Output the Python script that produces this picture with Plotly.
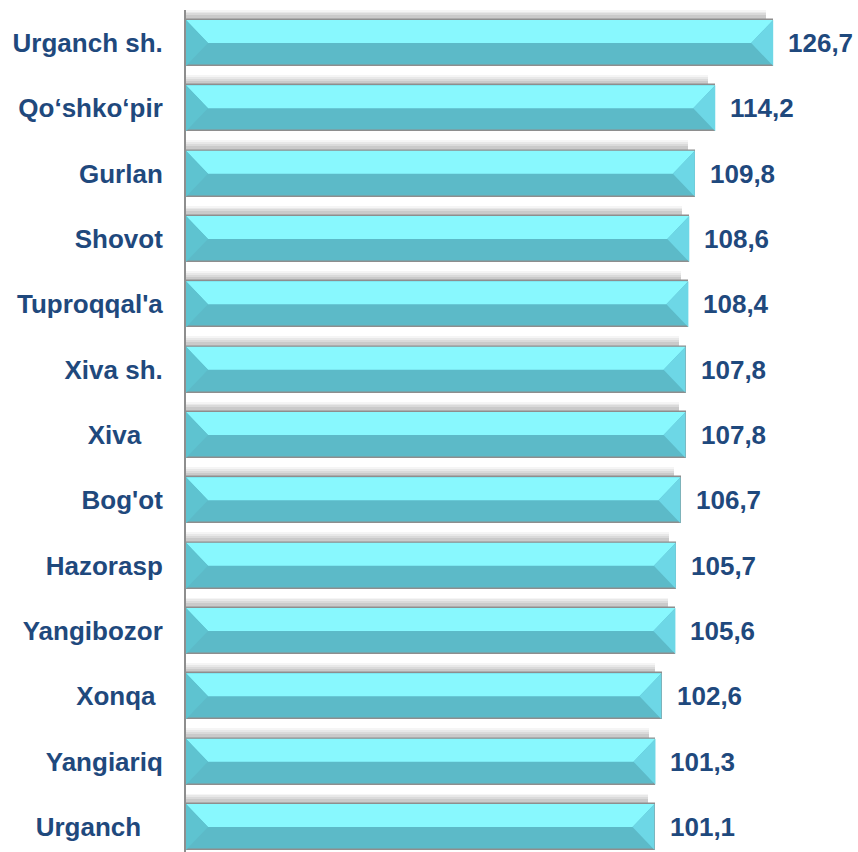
import plotly.graph_objects as go

# top-to-bottom as in the picture
regions = ["Urganch sh.", "Qo\u2018shko\u2018pir", "Gurlan", "Shovot", "Tuproqqal'a",
           "Xiva sh.", "Xiva\u00a0\u00a0\u00a0", "Bog'ot", "Hazorasp", "Yangibozor",
           "Xonqa\u00a0", "Yangiariq", "Urganch\u00a0\u00a0\u00a0"]
values = [126.7, 114.2, 109.8, 108.6, 108.4, 107.8, 107.8, 106.7, 105.7, 105.6,
          102.6, 101.3, 101.1]

BLUE = "#1F497D"
FONT = "Arial, 'Liberation Sans', sans-serif"
TOP_FACE = "#88F8FE"
BOTTOM_FACE = "#5CBAC8"
LEFT_FACE = "#5EC3D0"
RIGHT_FACE = "#6DD7E6"
EDGE = "#8E8E8E"

n = len(regions)
ypos = list(range(n - 1, -1, -1))   # first region at the top
half = 0.352                          # half bar thickness (category units)
bevel = 4.75                          # bevel depth in value units

fig = go.Figure()

# soft shadow above each bar, built from a few faint layers
for shift, alpha in [(0.16, 0.04), (0.13, 0.05), (0.10, 0.06), (0.07, 0.07)]:
    fig.add_trace(go.Bar(y=[y + shift for y in ypos], x=[v - 1.5 for v in values],
                         orientation="h", width=2 * half,
                         marker=dict(color=f"rgba(0,0,0,{alpha})", line=dict(width=0)),
                         hoverinfo="skip", showlegend=False))

# bar body (lower face colour)
fig.add_trace(go.Bar(y=ypos, x=values, orientation="h", width=2 * half,
                     marker=dict(color=BOTTOM_FACE, line=dict(width=0)),
                     showlegend=False))


def faces(kind):
    xs, ys = [], []
    for y, v in zip(ypos, values):
        if kind == "top":
            px = [0, v, v - bevel, bevel, 0]
            py = [y + half, y + half, y, y, y + half]
        elif kind == "left":
            px = [0, bevel, 0, 0]
            py = [y + half, y, y - half, y + half]
        else:
            px = [v, v - bevel, v, v]
            py = [y + half, y, y - half, y + half]
        xs += px + [None]
        ys += py + [None]
    return xs, ys


for kind, col in [("top", TOP_FACE), ("left", LEFT_FACE), ("right", RIGHT_FACE)]:
    fx, fy = faces(kind)
    fig.add_trace(go.Scatter(x=fx, y=fy, mode="lines", fill="toself",
                             fillcolor=col, line=dict(width=0),
                             hoverinfo="skip", showlegend=False))

# outline on top
fig.add_trace(go.Bar(y=ypos, x=values, orientation="h", width=2 * half,
                     marker=dict(color="rgba(0,0,0,0)", line=dict(color=EDGE, width=1.6)),
                     hoverinfo="skip", showlegend=False))

for y, v in zip(ypos, values):
    fig.add_annotation(x=v, y=y, text=f"{v:.1f}".replace(".", ","),
                       xanchor="left", yanchor="middle", xshift=13, showarrow=False,
                       font=dict(family=FONT, size=26, color=BLUE, weight="bold"))

fig.update_layout(
    width=858, height=852,
    margin=dict(l=186, r=0, t=10, b=0, autoexpand=False),
    paper_bgcolor="white", plot_bgcolor="white",
    barmode="overlay", bargap=0,
    xaxis=dict(range=[0, 145], visible=False, fixedrange=True, automargin=False),
    yaxis=dict(range=[-0.383, 12.505], tickvals=ypos, ticktext=regions,
               automargin=False, fixedrange=True,
               showgrid=False, zeroline=False, showline=True, linecolor=EDGE,
               linewidth=2, ticks="", ticklabelstandoff=16,
               tickfont=dict(family=FONT, size=26, color=BLUE, weight="bold")),
)

# the page's default body margin would push the figure off by 8px
fig.write_html("out.html", config={"displayModeBar": False},
               post_script="document.body.style.margin='0';")
